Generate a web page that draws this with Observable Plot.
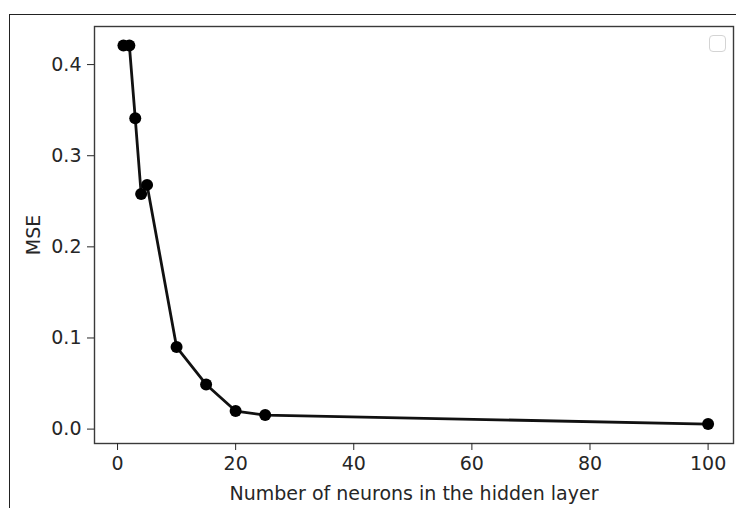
<!DOCTYPE html>
<html>
<head>
<meta charset="utf-8">
<script src="https://cdn.jsdelivr.net/npm/d3@7"></script>
<script src="https://cdn.jsdelivr.net/npm/@observablehq/plot@0.6"></script>
<style>
  html, body { margin: 0; padding: 0; background: #fff; }
  #wrap { position: relative; width: 736px; height: 508px; overflow: hidden; }
  #topline { position: absolute; left: 9px; top: 14px; width: 727px; height: 0; border-top: 1.3px solid #222; }
  #leftline { position: absolute; left: 9px; top: 14px; width: 0; height: 494px; border-left: 1.3px solid #222; }
  #legendbox { position: absolute; left: 709px; top: 35px; width: 15px; height: 15px; border: 1.5px solid #d4d4d4; border-radius: 4px; background: #fff; }
</style>
</head>
<body>
<div id="wrap"></div>
<script>
// Data
const neurons = [1, 2, 3, 4, 5, 10, 15, 20, 25, 100];
const mse = [0.421, 0.421, 0.341, 0.258, 0.268, 0.090, 0.049, 0.0198, 0.0154, 0.0055];
const xTicks = [0, 20, 40, 60, 80, 100];
const yTicks = [0.0, 0.1, 0.2, 0.3, 0.4];
const xLabel = "Number of neurons in the hidden layer";
const yLabel = "MSE";

const data = neurons.map((n, i) => ({n, mse: mse[i]}));

const chart = Plot.plot({
  width: 736,
  height: 508,
  marginLeft: 94,
  marginRight: 3,
  marginTop: 26,
  marginBottom: 65,
  style: {fontFamily: "DejaVu Sans", fontSize: "19px", color: "#262626", background: "transparent"},
  x: {domain: [-3.9, 104.3]},
  y: {domain: [-0.0158, 0.4418]},
  marks: [
    Plot.frame({stroke: "#3a3a3a", strokeWidth: 1.4}),
    Plot.axisX({ticks: xTicks, tickFormat: d3.format("d"), tickSize: 7, tickPadding: 6, label: xLabel, labelAnchor: "center", labelArrow: "none", labelOffset: 56, fontSize: 19}),
    Plot.axisY({ticks: yTicks, tickFormat: d3.format(".1f"), tickSize: 7, tickPadding: 6, label: yLabel, labelAnchor: "center", labelArrow: "none", labelOffset: 68, fontSize: 19}),
    Plot.line(data, {x: "n", y: "mse", stroke: "#111", strokeWidth: 2.8}),
    Plot.dot(data, {x: "n", y: "mse", r: 6, fill: "#000", stroke: "none"})
  ]
});

const wrap = document.getElementById("wrap");
wrap.appendChild(chart);
for (const id of ["topline", "leftline", "legendbox"]) {
  const d = document.createElement("div");
  d.id = id;
  wrap.appendChild(d);
}
</script>
</body>
</html>
